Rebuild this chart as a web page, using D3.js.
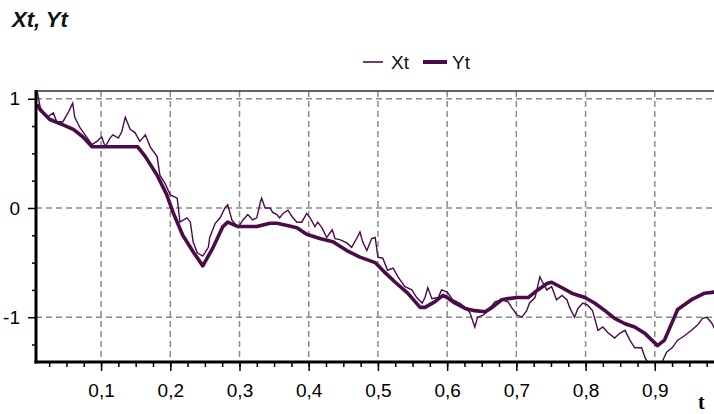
<!DOCTYPE html>
<html>
<head>
<meta charset="utf-8">
<script src="https://cdn.jsdelivr.net/npm/d3@7"></script>
<style>
  html, body { margin: 0; padding: 0; background: #fff; }
  svg { display: block; }
  text { font-family: "Liberation Sans", Arial, sans-serif; }
</style>
</head>
<body>
<svg id="chart" width="714" height="414"></svg>
<script>
// Process Xt (noisy) and its smoothed estimate Yt, sampled over t
const tX = [0.008,0.012,0.022,0.031,0.036,0.045,0.053,0.059,0.062,0.070,
  0.077,0.087,0.094,0.101,0.106,0.113,0.117,0.125,0.130,0.135,
  0.142,0.149,0.156,0.164,0.171,0.181,0.185,0.192,0.200,0.210,
  0.214,0.224,0.229,0.233,0.239,0.247,0.255,0.257,0.265,0.272,
  0.279,0.283,0.289,0.298,0.305,0.312,0.319,0.325,0.330,0.332,
  0.337,0.344,0.348,0.354,0.358,0.363,0.370,0.376,0.383,0.390,
  0.397,0.402,0.409,0.413,0.419,0.426,0.434,0.438,0.445,0.455,
  0.462,0.470,0.474,0.478,0.484,0.491,0.496,0.500,0.507,0.514,
  0.522,0.529,0.539,0.549,0.556,0.564,0.568,0.572,0.578,0.587,
  0.592,0.600,0.608,0.618,0.626,0.633,0.640,0.644,0.652,0.659,
  0.669,0.679,0.688,0.693,0.701,0.708,0.715,0.719,0.727,0.734,
  0.738,0.744,0.751,0.758,0.766,0.773,0.777,0.784,0.789,0.796,
  0.803,0.810,0.818,0.825,0.832,0.842,0.849,0.857,0.864,0.871,
  0.881,0.886,0.897,0.904,0.912,0.917,0.925,0.933,0.943,0.953,
  0.962,0.969,0.975,0.982,0.986];

const xt = [1.06,0.92,0.83,0.87,0.79,0.79,0.88,0.96,0.83,0.73,
  0.67,0.58,0.61,0.65,0.56,0.64,0.67,0.64,0.70,0.83,
  0.72,0.69,0.61,0.67,0.56,0.47,0.30,0.23,0.12,0.09,
  -0.13,-0.09,-0.13,-0.31,-0.41,-0.44,-0.36,-0.27,-0.14,-0.09,
  0.00,0.03,-0.11,-0.18,-0.11,-0.06,-0.11,-0.09,0.05,0.09,
  0.00,0.00,-0.04,-0.06,-0.09,-0.05,-0.02,-0.08,-0.13,-0.13,
  -0.05,-0.09,-0.17,-0.13,-0.18,-0.27,-0.20,-0.28,-0.29,-0.32,
  -0.36,-0.27,-0.22,-0.31,-0.39,-0.28,-0.27,-0.45,-0.46,-0.57,
  -0.55,-0.63,-0.72,-0.75,-0.82,-0.87,-0.82,-0.73,-0.83,-0.82,
  -0.75,-0.77,-0.84,-0.87,-0.91,-0.96,-1.09,-1.00,-0.98,-0.94,
  -0.86,-0.84,-0.86,-0.91,-0.98,-1.00,-0.94,-0.87,-0.82,-0.63,
  -0.68,-0.75,-0.72,-0.84,-0.80,-0.84,-0.91,-1.00,-0.92,-0.87,
  -0.89,-0.94,-1.12,-1.09,-1.14,-1.19,-1.15,-1.12,-1.21,-1.28,
  -1.28,-1.37,-1.50,-1.50,-1.39,-1.32,-1.28,-1.21,-1.17,-1.12,
  -1.07,-1.01,-1.00,-1.05,-1.10];

const tY = [0.008,0.012,0.026,0.045,0.060,0.074,0.087,0.101,0.120,0.153,
  0.164,0.181,0.195,0.204,0.218,0.233,0.247,0.262,0.276,0.283,
  0.298,0.325,0.344,0.354,0.369,0.383,0.397,0.416,0.435,0.455,
  0.474,0.496,0.510,0.525,0.543,0.561,0.568,0.582,0.594,0.600,
  0.611,0.626,0.640,0.655,0.665,0.679,0.688,0.702,0.717,0.731,
  0.745,0.751,0.766,0.780,0.799,0.813,0.828,0.842,0.857,0.871,
  0.886,0.904,0.914,0.933,0.953,0.972,0.986];

const yt = [0.95,0.90,0.81,0.76,0.72,0.65,0.56,0.56,0.56,0.56,
  0.47,0.30,0.12,-0.04,-0.25,-0.40,-0.53,-0.36,-0.17,-0.13,
  -0.17,-0.17,-0.14,-0.14,-0.16,-0.18,-0.24,-0.28,-0.31,-0.39,
  -0.45,-0.50,-0.59,-0.68,-0.78,-0.91,-0.91,-0.86,-0.80,-0.82,
  -0.87,-0.92,-0.94,-0.95,-0.91,-0.84,-0.83,-0.82,-0.82,-0.75,
  -0.69,-0.68,-0.73,-0.78,-0.82,-0.87,-0.94,-1.01,-1.06,-1.09,
  -1.15,-1.26,-1.21,-0.93,-0.84,-0.78,-0.77];

// Axis ticks and their labels
const xMajor = [0.1,0.2,0.3,0.4,0.5,0.6,0.7,0.8,0.9];
const xLabels = ["0,1","0,2","0,3","0,4","0,5","0,6","0,7","0,8","0,9"];
const yMajor = [-1,0,1];
const yLabels = ["-1","0","1"];
const xMinor = d3.range(1, 40).map(i => i * 0.025);
const yMinor = [-1.25,-0.75,-0.5,-0.25,0.25,0.5,0.75];

const seriesNames = ["Xt", "Yt"];
const lineColor = "#4b0b48";

const svg = d3.select("#chart");
const W = 714, H = 414;
const plot = { left: 36, right: 724, top: 91, bottom: 362 };

const x = d3.scaleLinear().domain([0.006, 1.0]).range([plot.left, plot.right]);
const y = d3.scaleLinear().domain([-1.41, 1.08]).range([plot.bottom, 90]);

svg.append("rect").attr("width", W).attr("height", H).attr("fill", "#fff");

// Dashed grid
const grid = svg.append("g").attr("stroke", "#8a8a8a").attr("stroke-width", 1.5)
  .attr("stroke-dasharray", "6,4");
grid.selectAll(".gx").data(xMajor).join("line")
  .attr("x1", d => x(d)).attr("x2", d => x(d))
  .attr("y1", plot.top).attr("y2", plot.bottom);
grid.selectAll(".gy").data(yMajor).join("line")
  .attr("x1", plot.left).attr("x2", W)
  .attr("y1", d => y(d)).attr("y2", d => y(d));

// Top frame
svg.append("line").attr("x1", plot.left).attr("x2", W)
  .attr("y1", plot.top).attr("y2", plot.top)
  .attr("stroke", "#333").attr("stroke-width", 1.5);

// Lines, clipped to the plot area
svg.append("clipPath").attr("id", "clip").append("rect")
  .attr("x", plot.left).attr("y", plot.top)
  .attr("width", W - plot.left).attr("height", plot.bottom - plot.top);

const line = d3.line().x(d => x(d[0])).y(d => y(d[1]));
const g = svg.append("g").attr("clip-path", "url(#clip)");
g.append("path").datum(d3.zip(tX, xt)).attr("d", line)
  .attr("fill", "none").attr("stroke", lineColor).attr("stroke-width", 1.4)
  .attr("stroke-linejoin", "miter");
g.append("path").datum(d3.zip(tY, yt)).attr("d", line)
  .attr("fill", "none").attr("stroke", lineColor).attr("stroke-width", 3.6)
  .attr("stroke-linejoin", "round");

// Axes
const font = '"Liberation Sans", Arial, sans-serif';
function styleAxis(sel) {
  sel.select(".domain").remove();
  sel.selectAll(".tick line").attr("stroke", "#000").attr("stroke-width", 1.5);
  sel.selectAll("text").attr("fill", "#000").style("font-family", font).style("font-size", "19px");
}

svg.append("g").attr("transform", `translate(0,${plot.bottom})`)
  .call(d3.axisBottom(x).tickValues(xMinor).tickSize(5).tickFormat(""))
  .call(styleAxis);
svg.append("g").attr("transform", `translate(0,${plot.bottom})`)
  .call(d3.axisBottom(x).tickValues(xMajor).tickSize(9).tickPadding(13)
    .tickFormat((d, i) => xLabels[i]))
  .call(styleAxis);

svg.append("g").attr("transform", `translate(${plot.left},0)`)
  .call(d3.axisLeft(y).tickValues(yMinor).tickSize(4).tickFormat(""))
  .call(styleAxis);
svg.append("g").attr("transform", `translate(${plot.left},0)`)
  .call(d3.axisLeft(y).tickValues(yMajor).tickSize(8).tickPadding(8)
    .tickFormat((d, i) => yLabels[i]))
  .call(styleAxis);

svg.append("line").attr("x1", plot.left).attr("x2", plot.left)
  .attr("y1", plot.top - 1).attr("y2", plot.bottom + 1.5)
  .attr("stroke", "#000").attr("stroke-width", 3);
svg.append("line").attr("x1", plot.left - 1.5).attr("x2", W)
  .attr("y1", plot.bottom).attr("y2", plot.bottom)
  .attr("stroke", "#000").attr("stroke-width", 3);

// Title and axis name
svg.append("text").attr("x", 12).attr("y", 27).text("Xt, Yt")
  .style("font-size", "22px").style("font-weight", "bold").style("font-style", "italic")
  .attr("fill", "#111");
svg.append("text").attr("x", 698).attr("y", 409).text("t")
  .style("font-family", '"Liberation Serif", "Times New Roman", serif')
  .style("font-size", "20px").style("font-weight", "bold").attr("fill", "#000");

// Legend
const legend = svg.append("g");
const legItems = [
  { name: seriesNames[0], x1: 363, x2: 383, w: 1.6, tx: 391 },
  { name: seriesNames[1], x1: 423, x2: 447, w: 4, tx: 452 }
];
legItems.forEach(it => {
  legend.append("line").attr("x1", it.x1).attr("x2", it.x2)
    .attr("y1", 62).attr("y2", 62)
    .attr("stroke", lineColor).attr("stroke-width", it.w);
  legend.append("text").attr("x", it.tx).attr("y", 69).text(it.name)
    .style("font-size", "19px").attr("fill", "#111");
});
</script>
</body>
</html>
